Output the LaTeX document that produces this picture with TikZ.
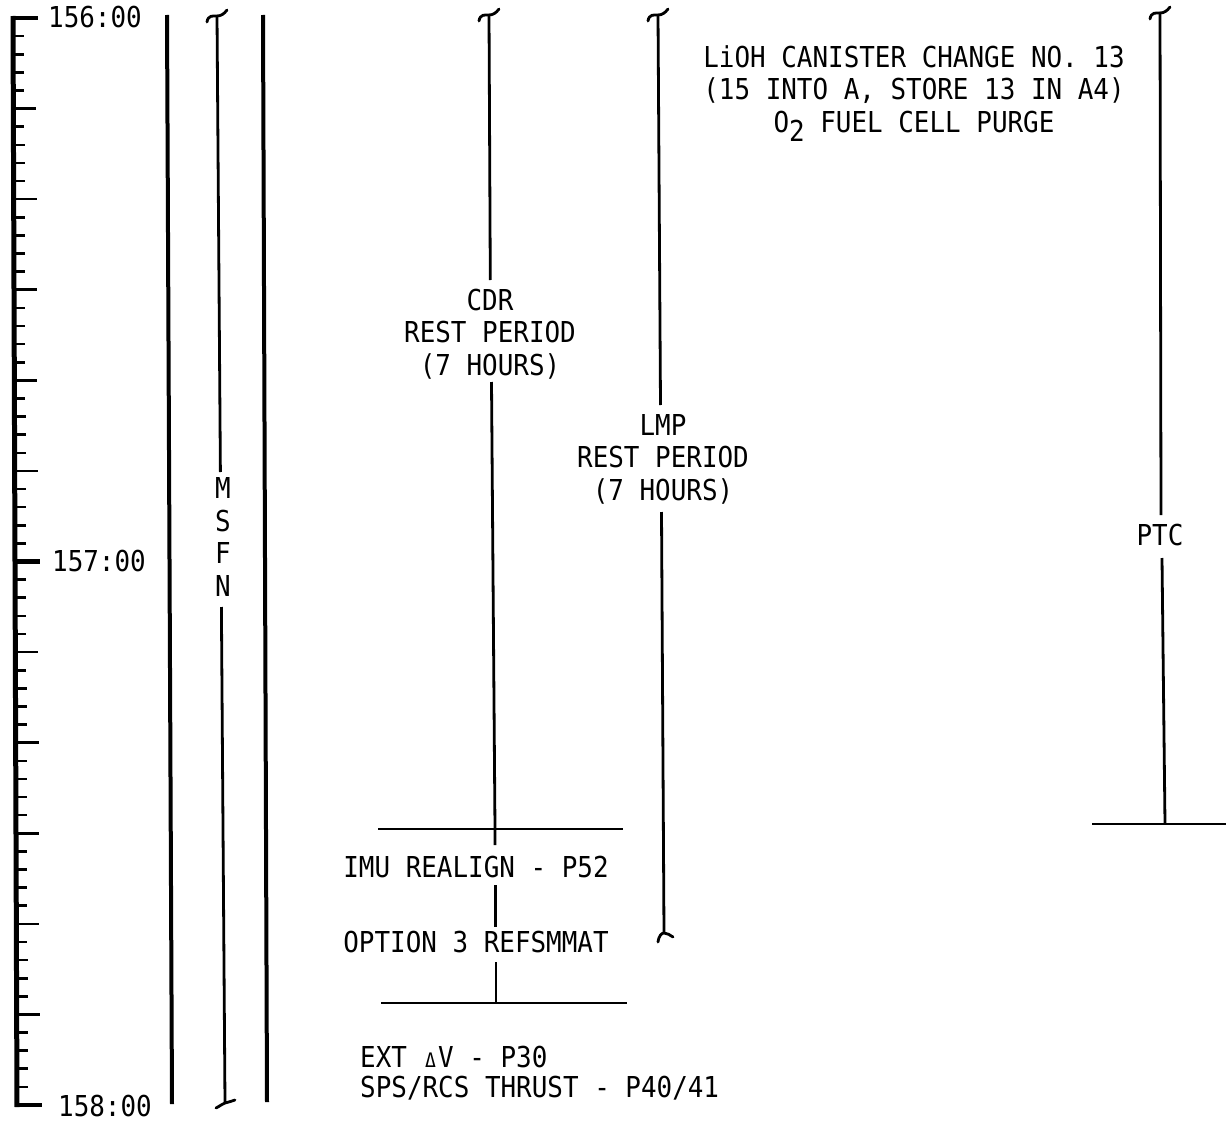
\documentclass[tikz,border=0pt]{standalone}
\usepackage{fontspec}
\newfontfamily\chartfont[FakeStretch=0.9]{DejaVu Sans Mono}
\begin{document}
\begin{tikzpicture}[x=1pt,y=-1pt,
  lbl/.style={inner sep=0pt, font=\chartfont\fontsize{28.8}{32.5}\selectfont, align=center, anchor=base},
  lblleft/.style={inner sep=0pt, font=\chartfont\fontsize{28.8}{30}\selectfont, align=left, anchor=base west},
  heavy/.style={line width=4pt},
  thin/.style={line width=2.8pt},
  rule/.style={line width=2.5pt},
  topcap/.pic={\draw[line width=2.8pt,line cap=round] (-10,7) .. controls (-9,0) and (-4,1) .. (0,1) .. controls (4,1) and (7,-1) .. (10,-5);},
  botcapA/.pic={\draw[line width=2.8pt,line cap=round] (-9,5) .. controls (-5,3) and (-3,1) .. (0,0) .. controls (4,-1) and (7,-2) .. (10,-3);},
  botcapB/.pic={\draw[line width=2.8pt,line cap=round] (-6,9) .. controls (-5,2) and (-2,0) .. (0,0) .. controls (3,0) and (6,2) .. (9,4);}
]
\useasboundingbox (0,0) rectangle (1226,1121);

% time ruler
\coordinate (rulertop) at (13,16);
\coordinate (rulerbot) at (17,1107);
\draw[line width=5pt] (rulertop) -- (rulerbot);
\foreach \k in {0,...,60}{
  \pgfmathsetmacro\yy{18+\k*18.117}
  \pgfmathsetmacro\xb{13+0.0037*\yy}
  \pgfmathtruncatemacro\mA{mod(\k,30)}
  \pgfmathtruncatemacro\mB{mod(\k,5)}
  \pgfmathsetmacro\len{\mA==0 ? 25 : (\mB==0 ? 23 : 11)}
  \pgfmathsetmacro\lw{\mA==0 ? 4.5 : 2.6}
  \draw[line width=\lw pt] (\xb,\yy) -- ++(\len,0);
}
\node[lbl] (t156) at (95,28) {156:00};
\node[lbl] (t157) at (99,571) {157:00};
\node[lbl] (t158) at (105,1116) {158:00};

% heavy column lines
\coordinate (c1top) at (167,15);
\coordinate (c1bot) at (172,1104);
\draw[heavy] (c1top) -- (c1bot);
\coordinate (c2top) at (263,15);
\coordinate (c2bot) at (267,1102);
\draw[heavy] (c2top) -- (c2bot);

% MSFN
\coordinate (msfntop) at (217,15);
\coordinate (msfnA) at (220.4,472);
\coordinate (msfnB) at (221.4,607);
\coordinate (msfnbot) at (225,1103);
\node[lbl] (msfn) at (223,596) {M\\S\\F\\N};
\draw[thin] (msfntop) -- (msfnA);
\draw[thin] (msfnB) -- (msfnbot);
\pic at (msfntop) {topcap};
\pic at (msfnbot) {botcapA};

% CDR
\coordinate (cdrtop) at (489,14);
\coordinate (cdrA) at (490.3,280);
\coordinate (cdrB) at (491.5,382);
\coordinate (cdrC) at (495,829);
\coordinate (cdrD) at (495,845);
\coordinate (cdrE) at (495.5,885);
\coordinate (cdrF) at (495.5,927);
\coordinate (cdrG) at (496,962);
\coordinate (cdrH) at (496,1003);
\node[lbl] (cdr) at (490,375) {CDR\\REST PERIOD\\(7 HOURS)};
\draw[thin] (cdrtop) -- (cdrA);
\draw[thin] (cdrB) -- (cdrC) -- (cdrD);
\draw[thin] (cdrE) -- (cdrF);
\draw[thin] (cdrG) -- (cdrH);
\pic at (cdrtop) {topcap};

\coordinate (h1a) at (378,829);
\coordinate (h1b) at (623,829);
\coordinate (h2a) at (381,1003);
\coordinate (h2b) at (627,1003);
\draw[rule] (h1a) -- (h1b);
\draw[rule] (h2a) -- (h2b);
\node[lbl] (imu) at (476,877) {IMU REALIGN - P52};
\node[lbl] (opt) at (476,952) {OPTION 3 REFSMMAT};
\node[lblleft] (ext) at (360,1097) {EXT \makebox[15.6pt]{\fontsize{20}{20}\selectfont Δ}V - P30\\SPS/RCS THRUST - P40/41};

% LMP
\coordinate (lmptop) at (658,14);
\coordinate (lmpA) at (660.5,405);
\coordinate (lmpB) at (661.5,512);
\coordinate (lmpbot) at (664,933);
\node[lbl] (lmp) at (663,500) {LMP\\REST PERIOD\\(7 HOURS)};
\draw[thin] (lmptop) -- (lmpA);
\draw[thin] (lmpB) -- (lmpbot);
\pic at (lmptop) {topcap};
\pic at (lmpbot) {botcapB};

% top-right note
\node[lbl] (lioh) at (914,132) {LiOH CANISTER CHANGE NO. 13\\(15 INTO A, STORE 13 IN A4)\\O\raisebox{-9pt}{2} FUEL CELL PURGE};

% PTC
\coordinate (ptctop) at (1160,12);
\coordinate (ptcA) at (1161,515);
\coordinate (ptcB) at (1162,558);
\coordinate (ptcbot) at (1165,824);
\node[lbl] (ptc) at (1160,545) {PTC};
\draw[thin] (ptctop) -- (ptcA);
\draw[thin] (ptcB) -- (ptcbot);
\pic at (ptctop) {topcap};
\coordinate (ptchA) at (1092,824);
\coordinate (ptchB) at (1226,824);
\draw[rule] (ptchA) -- (ptchB);
\end{tikzpicture}
\end{document}
